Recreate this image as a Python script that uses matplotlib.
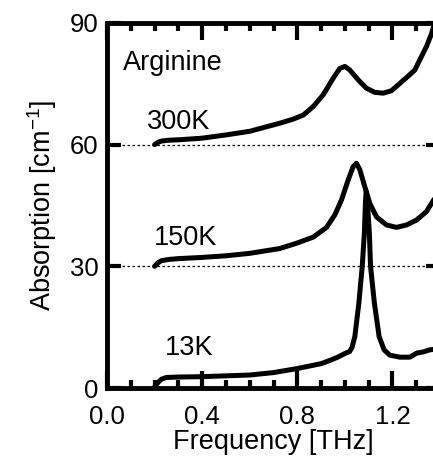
import matplotlib
matplotlib.use("Agg")
import matplotlib.pyplot as plt
from matplotlib.ticker import MultipleLocator

plt.rcParams["font.family"] = ["Liberation Sans", "DejaVu Sans"]
plt.rcParams["mathtext.fontset"] = "custom"
plt.rcParams["mathtext.rm"] = "Liberation Sans"
plt.rcParams["mathtext.default"] = "regular"

# 13 K spectrum
freq_13k = [0.20, 0.215, 0.23, 0.25, 0.30, 0.40, 0.50, 0.60, 0.70, 0.80, 0.85,
            0.90, 0.937, 0.97, 1.0, 1.02, 1.03, 1.042, 1.059, 1.073, 1.082,
            1.087, 1.090, 1.094, 1.103, 1.108, 1.124, 1.144, 1.165, 1.189,
            1.231, 1.273, 1.302, 1.33, 1.357, 1.38]
abs_13k = [0.3, 1.4, 2.2, 2.6, 2.7, 2.8, 3.0, 3.2, 3.8, 4.8, 5.4,
           6.0, 6.8, 7.6, 8.5, 9.0, 10.0, 12.7, 21.0, 30.0, 38.2,
           46.5, 48.5, 46.5, 38.2, 30.0, 21.0, 12.7, 9.4, 8.1,
           7.6, 7.6, 8.6, 8.9, 9.4, 9.6]

# 150 K spectrum
freq_150k = [0.20, 0.215, 0.23, 0.26, 0.30, 0.40, 0.50, 0.60, 0.727, 0.797,
             0.867, 0.923, 0.958, 0.986, 1.014, 1.035, 1.049, 1.063, 1.084,
             1.105, 1.133, 1.175, 1.217, 1.259, 1.301, 1.343, 1.364, 1.38]
abs_150k = [30.0, 30.9, 31.4, 31.7, 31.9, 32.2, 32.6, 33.2, 34.4, 35.7,
            37.2, 39.6, 42.7, 46.4, 51.3, 54.6, 55.4, 53.8, 49.6,
            45.5, 42.2, 40.2, 39.6, 40.2, 41.4, 43.5, 45.5, 47.0]

# 300 K spectrum
freq_300k = [0.20, 0.215, 0.23, 0.26, 0.30, 0.40, 0.50, 0.60, 0.727, 0.783,
             0.825, 0.867, 0.909, 0.951, 0.979, 1.0, 1.021, 1.056, 1.091,
             1.126, 1.161, 1.196, 1.231, 1.266, 1.294, 1.315, 1.343, 1.364,
             1.38]
abs_300k = [60.0, 60.6, 60.9, 61.1, 61.2, 61.6, 62.4, 63.3, 65.3, 66.3,
            67.3, 69.4, 72.3, 76.4, 78.8, 79.3, 78.4, 76.0, 73.9,
            72.9, 72.7, 73.3, 75.1, 76.9, 78.4, 80.9, 84.2, 87.3,
            90.5]

offsets = [30, 60]
labels = ["13K", "150K", "300K"]
label_pos = [(0.345, 9.9), (0.33, 37.0), (0.30, 65.6)]

fig = plt.figure(figsize=(4.33, 4.62), dpi=100)
# right edge (1.4 THz) lies just outside the picture, as in the original
ax = fig.add_axes([107 / 433, 74 / 462, 333 / 433, 365 / 462])

for y0 in offsets:
    ax.axhline(y0, color="black", lw=0.9, ls=(0, (2, 2)), zorder=1)

for fx, fy in [(freq_13k, abs_13k), (freq_150k, abs_150k), (freq_300k, abs_300k)]:
    ax.plot(fx, fy, color="black", lw=3.6, solid_capstyle="round",
            solid_joinstyle="round", zorder=3)

for text, (x, y) in zip(labels, label_pos):
    ax.text(x, y, text, fontsize=19.5, ha="center", va="center")
ax.text(0.065, 80.2, "Arginine", fontsize=19.5, ha="left", va="center")

ax.set_xlim(0, 1.4)
ax.set_ylim(0, 90)
ax.xaxis.set_major_locator(MultipleLocator(0.4))
ax.xaxis.set_minor_locator(MultipleLocator(0.1))
ax.yaxis.set_major_locator(MultipleLocator(30))
ax.xaxis.set_major_formatter(plt.FuncFormatter(lambda v, p: f"{v:.1f}"))

for s in ax.spines.values():
    s.set_linewidth(3.5)

ax.tick_params(axis="x", which="major", direction="in", length=12, width=3,
               top=True, bottom=True, labelsize=18.5, pad=12)
ax.tick_params(axis="x", which="minor", direction="in", length=6, width=3,
               top=True, bottom=True)
ax.tick_params(axis="y", which="major", direction="in", length=10, width=3,
               left=True, right=True, labelsize=18.5, pad=6)

ax.set_xlabel("Frequency [THz]", fontsize=19.5, labelpad=0)
ax.set_ylabel("Absorption [cm$^{-1}$]", fontsize=19.5, labelpad=8)

fig.savefig("out.png", dpi=100)
